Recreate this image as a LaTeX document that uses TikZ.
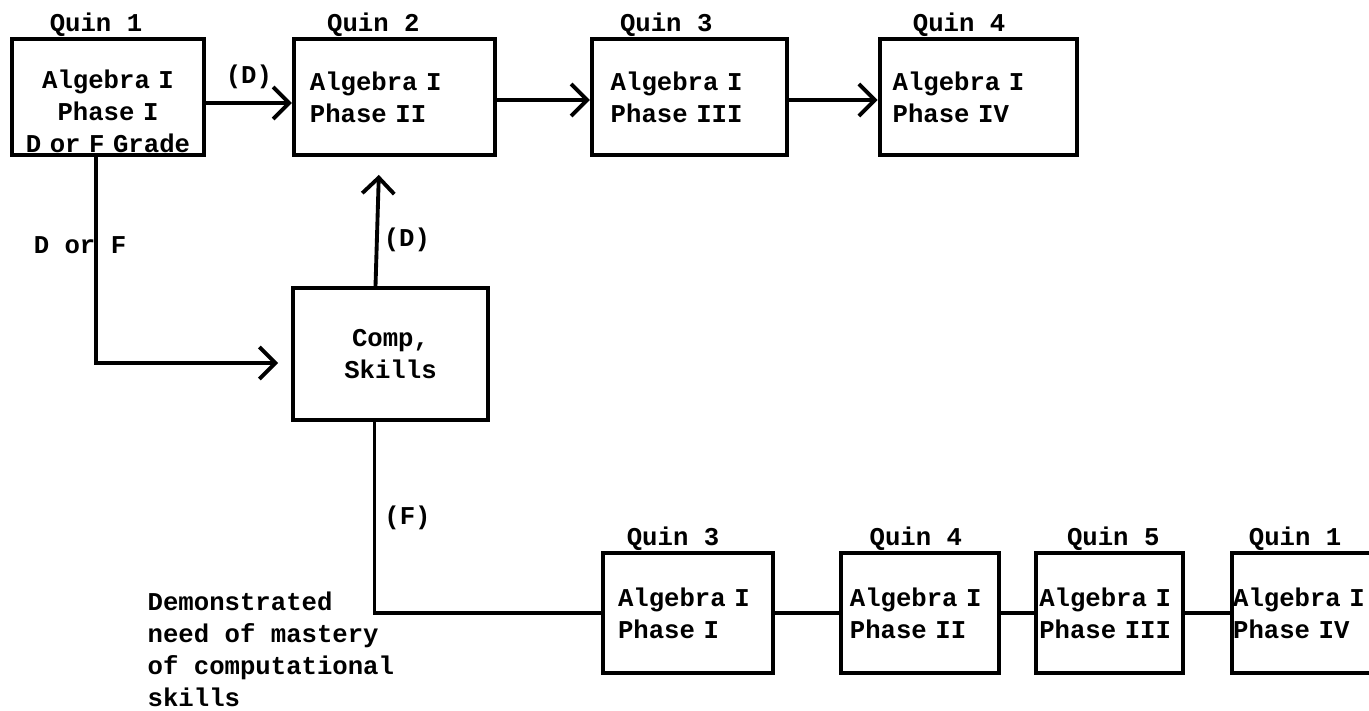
\documentclass[tikz,border=0pt]{standalone}
\usepackage{fontspec}
\setmonofont{Liberation Mono}
\usetikzlibrary{positioning,arrows.meta}

\begin{document}
\begin{tikzpicture}[
    node distance=0.5cm,
    font=\ttfamily\bfseries\fontsize{7.3}{9.1}\selectfont,
    quinbox/.style={rectangle, draw=black, line width=1.1pt, minimum height=1.16cm,
        align=left, inner ysep=2pt},
    lowbox/.style={quinbox, minimum height=1.2cm, text width=1.4cm},
    quin/.style={inner sep=0pt},
    arr/.style={-{Straight Barb[length=1.6mm,width=3.2mm]}, line width=1.1pt},
    link/.style={line width=1.1pt},
]
\useasboundingbox (0,0) rectangle (13.69,-7.11);

% top row
\node[quinbox, align=center, text width=1.86cm, inner xsep=0.03cm, text depth=0.35cm] (q1) at (1.08,-0.97) {Algebra I\\Phase I\\D or F Grade};
\node[quinbox, right=0.86cm of q1, text width=1.69cm, inner xsep=0.16cm] (q2) {Algebra I\\Phase II};
\node[quinbox, right=0.93cm of q2, text width=1.57cm, inner xsep=0.19cm] (q3) {Algebra I\\Phase III};
\node[quinbox, right=0.89cm of q3, text width=1.71cm, inner xsep=0.13cm] (q4) {Algebra I\\Phase IV};
\node[quin, above=0pt of q1.north, xshift=-0.12cm] (l1) {Quin 1};
\node[quin, above=0pt of q2.north, xshift=-0.21cm] (l2) {Quin 2};
\node[quin, above=0pt of q3.north, xshift=-0.23cm] (l3) {Quin 3};
\node[quin, above=0pt of q4.north, xshift=-0.19cm] (l4) {Quin 4};

\node[quinbox, align=center, minimum height=1.32cm, text width=1.75cm, inner xsep=0.1cm] (comp) at (3.905,-3.54) {Comp,\\Skills};
\node[quin] (dorf) at (0.80,-2.45) {D or F};

% bottom row
\node[lowbox, inner xsep=0.15cm] (b1) at (6.88,-6.13) {Algebra I\\Phase I};
\node[lowbox, right=0.64cm of b1, inner xsep=0.09cm] (b2) {Algebra I\\Phase II};
\node[lowbox, right=0.33cm of b2, inner xsep=0.035cm] (b3) {Algebra I\\Phase III};
\node[lowbox, right=0.45cm of b3, inner xsep=0.015cm] (b4) {Algebra I\\Phase IV};
\node[quin, above=0pt of b1.north, xshift=-0.15cm] (m1) {Quin 3};
\node[quin, above=0pt of b2.north, xshift=-0.04cm] (m2) {Quin 4};
\node[quin, above=0pt of b3.north, xshift=0.04cm] (m3) {Quin 5};
\node[quin, above=0pt of b4.north, xshift=-0.08cm] (m4) {Quin 1};

\node[quin, anchor=north west, align=left] (note) at (1.47,-5.91) {Demonstrated\\need of mastery\\of computational\\skills};

\draw[arr] ([yshift=-0.06cm]q1.east) -- node[above=0.12cm, quin] {(D)} ([yshift=-0.06cm]q2.west);
\draw[arr] ([yshift=-0.03cm]q2.east) -- ([yshift=-0.03cm]q3.west);
\draw[arr] ([yshift=-0.03cm]q3.east) -- ([yshift=-0.03cm]q4.west);
\draw[arr, shorten >=0.13cm] ([xshift=-0.12cm]q1.south) |- ([yshift=-0.09cm]comp.west);
\draw[arr, shorten >=0.18cm] ([xshift=-0.15cm]comp.north) -- node[pos=0.36, right=0.05cm, quin] {(D)} ([xshift=-0.15cm]q2.south);
\draw[link] ([xshift=-0.16cm]comp.south) |- node[pos=0.25, right=0.08cm, quin] {(F)} (b1.west);
\draw[link] (b1) -- (b2);
\draw[link] (b2) -- (b3);
\draw[link] (b3) -- (b4);
\end{tikzpicture}
\end{document}
